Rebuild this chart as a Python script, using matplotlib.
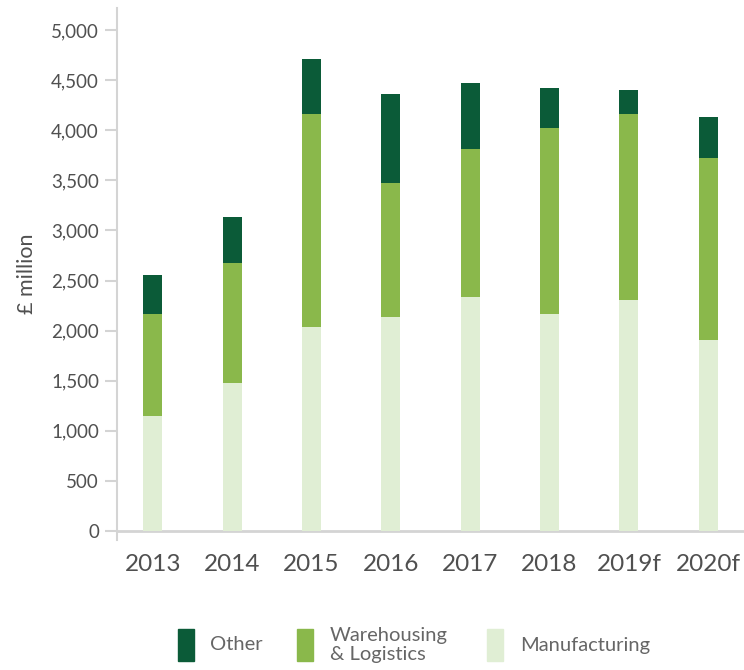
import matplotlib
matplotlib.use("Agg")
import matplotlib.pyplot as plt
from matplotlib.patches import Rectangle
import numpy as np

years = ["2013", "2014", "2015", "2016", "2017", "2018", "2019f", "2020f"]
manufacturing = [1150, 1480, 2035, 2135, 2340, 2165, 2305, 1905]
warehousing = [1015, 1195, 2125, 1335, 1475, 1855, 1855, 1820]
other = [395, 460, 550, 890, 655, 405, 245, 410]
yticks = [0, 500, 1000, 1500, 2000, 2500, 3000, 3500, 4000, 4500, 5000]

C_OTHER = "#0b5b38"
C_WARE = "#8ab84b"
C_MANU = "#e0eed4"
GRID = "#d4d4d4"
TXT = "#505050"

plt.rcParams["font.family"] = ["Lato", "DejaVu Sans"]

W, H = 744, 670
fig = plt.figure(figsize=(W / 100, H / 100), dpi=100)
ax = fig.add_axes([117 / W, 1 - 540 / H, 1 - 117 / W, (540 - 8) / H])

x = np.arange(len(years))
m = np.array(manufacturing)
w = np.array(warehousing)
o = np.array(other)
bw = 0.24
ax.bar(x, m, bw, color=C_MANU, zorder=2)
ax.bar(x, w, bw, bottom=m, color=C_WARE, zorder=2)
ax.bar(x, o, bw, bottom=m + w, color=C_OTHER, zorder=2)

ax.set_xlim(-0.45, 7.45)
ax.set_ylim(-90, 5220)
ax.axhline(0, color=GRID, lw=2, zorder=1, clip_on=False)

for s in ["top", "right", "bottom"]:
    ax.spines[s].set_visible(False)
ax.spines["left"].set_color(GRID)
ax.spines["left"].set_linewidth(1.5)

ax.set_yticks(yticks)
ax.set_yticklabels([f"{v:,}" for v in yticks])
ax.tick_params(axis="y", length=9, width=1.5, color=GRID, labelsize=13.5,
               labelcolor=TXT, pad=4)
ax.set_xticks(x)
ax.set_xticklabels(years)
ax.tick_params(axis="x", length=0, labelsize=17.5, labelcolor=TXT, pad=10)
ax.set_ylabel("£ million", fontsize=15.5, color=TXT, labelpad=10)

# legend
leg_items = [(C_OTHER, "Other", 178, 210),
             (C_WARE, "Warehousing\n& Logistics", 297, 330),
             (C_MANU, "Manufacturing", 487, 520)]
for col, lab, px, tx in leg_items:
    fig.add_artist(Rectangle((px / W, 1 - 661 / H), 16 / W, 32 / H,
                             transform=fig.transFigure, color=col))
    fig.text(tx / W, 1 - 645 / H, lab, fontsize=14.5, color="#666666",
             va="center", ha="left", linespacing=1.15)

fig.savefig("out.png", dpi=100)
